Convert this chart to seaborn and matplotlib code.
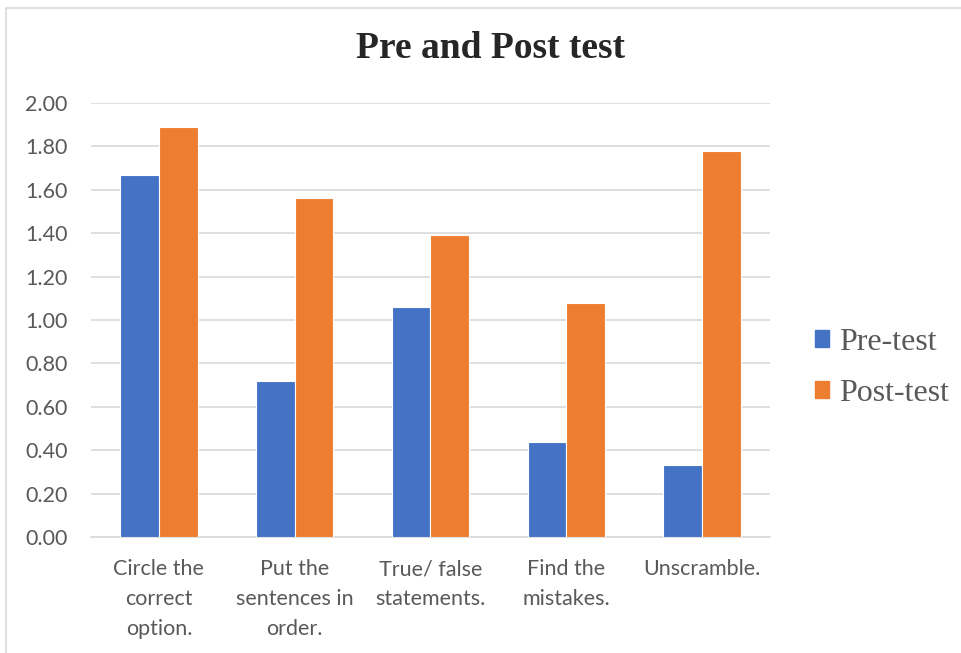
import matplotlib
matplotlib.use("Agg")
import matplotlib.pyplot as plt
import seaborn as sns
import pandas as pd
from matplotlib.patches import Rectangle

# Data
categories = ["Circle the\ncorrect\noption.", "Put the\nsentences in\norder.",
              "True/ false\nstatements.", "Find the\nmistakes.", "Unscramble."]
pre_test = [1.67, 0.72, 1.06, 0.44, 0.33]
post_test = [1.89, 1.56, 1.39, 1.08, 1.78]
series = ["Pre-test", "Post-test"]
colors = ["#4472C4", "#ED7D31"]

df = pd.DataFrame({
    "Task": categories * 2,
    "Score": pre_test + post_test,
    "Test": [series[0]] * len(categories) + [series[1]] * len(categories),
})

sns.set_theme(style="white")
plt.rcParams["font.family"] = ["Lato", "DejaVu Sans"]

fig = plt.figure(figsize=(9.62, 6.53), dpi=100)
ax = fig.add_axes([91 / 962, 1 - 537 / 653, (770 - 91) / 962, (537 - 103) / 653])

sns.barplot(data=df, x="Task", y="Score", hue="Test", palette=colors, saturation=1,
            width=0.57, edgecolor="white", linewidth=0.8, ax=ax, legend=False, zorder=3)

ax.set_ylim(0, 2.0)
ax.set_yticks([i / 5 for i in range(11)])
ax.set_yticklabels([f"{i / 5:.2f}" for i in range(11)])
ax.set_xlabel("")
ax.set_ylabel("")
ax.grid(axis="y", color="#d9d9d9", linewidth=1.2, zorder=0)
for s in ["top", "right", "left"]:
    ax.spines[s].set_visible(False)
ax.spines["bottom"].set_color("#d9d9d9")
ax.spines["bottom"].set_linewidth(1.2)
ax.tick_params(axis="both", length=0, labelsize=15.5, colors="#595959")
ax.tick_params(axis="y", pad=17)
ax.tick_params(axis="x", pad=16)
for lbl in ax.get_xticklabels():
    lbl.set_linespacing(1.62)

fig.suptitle("Pre and Post test", x=491 / 962, y=1 - 31 / 653,
             fontsize=27, fontweight="bold", family="Liberation Serif", va="top")

handles = [Rectangle((0, 0), 1, 1, color=c) for c in colors]
fig.legend(handles, series, loc="center left", bbox_to_anchor=(786 / 962, 1 - 368 / 653),
           frameon=False, prop={"family": "Liberation Serif", "size": 23},
           handlelength=0.45, handleheight=0.45, handletextpad=0.3, labelspacing=0.68,
           labelcolor="#595959")

# light chart border
fig.patches.append(Rectangle((6 / 962, -0.01), 1.0, 1 - 8 / 653 + 0.01,
                             transform=fig.transFigure, fill=False,
                             edgecolor="#d9d9d9", linewidth=1.2))

fig.savefig("out.png", dpi=100, facecolor="white")
